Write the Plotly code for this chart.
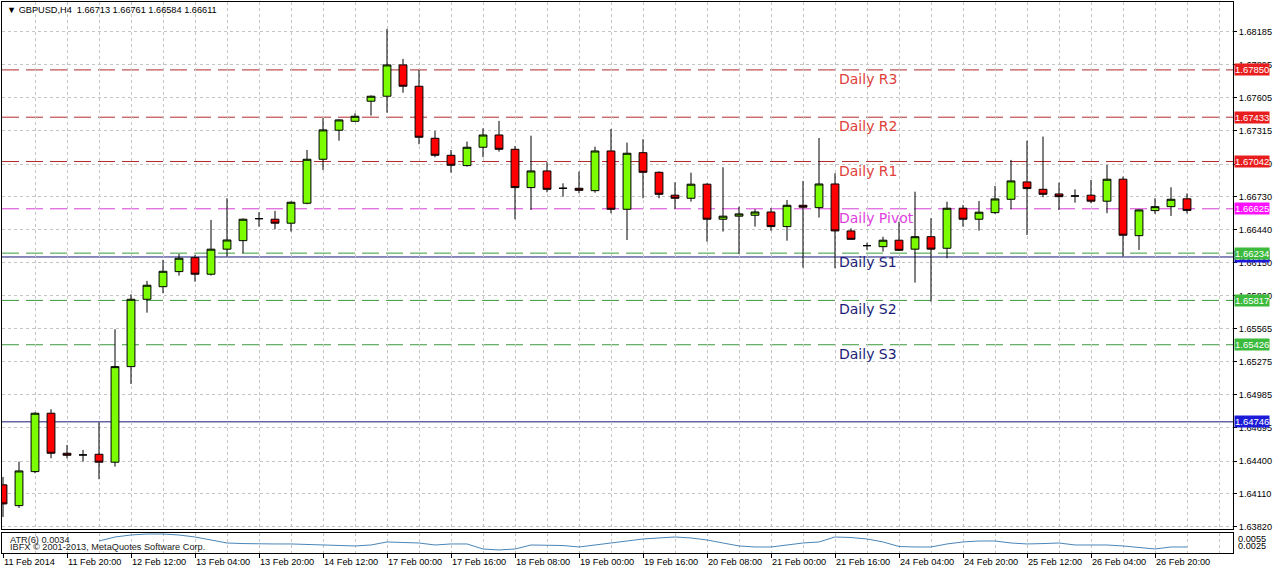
import plotly.graph_objects as go

# ---------------- data ----------------
symbol_title = "GBPUSD,H4"
last_ohlc = ["1.66713", "1.66761", "1.66584", "1.66611"]

open_ = [1.64190, 1.64007, 1.64307, 1.64822, 1.64469, 1.64454, 1.64460, 1.64390, 1.65233, 1.65827,
         1.65938, 1.66071, 1.66194, 1.66048, 1.66269, 1.66344, 1.66538, 1.66533, 1.66498, 1.66674,
         1.67062, 1.67318, 1.67397, 1.67574, 1.67618, 1.67894, 1.67706, 1.67247, 1.67097, 1.67006,
         1.67168, 1.67276, 1.67150, 1.66812, 1.66959, 1.66806, 1.66806, 1.66785, 1.67135, 1.66621,
         1.67120, 1.66947, 1.66745, 1.66718, 1.66842, 1.66533, 1.66560, 1.66568, 1.66597, 1.66468,
         1.66656, 1.66635, 1.66844, 1.66430, 1.66300, 1.66291, 1.66348, 1.66269, 1.66379, 1.66277,
         1.66630, 1.66533, 1.66591, 1.66709, 1.66862, 1.66797, 1.66756, 1.66738, 1.66745, 1.66692,
         1.66886, 1.66388, 1.66609, 1.66644, 1.66713]
high_ = [1.64260, 1.64395, 1.64830, 1.64857, 1.64542, 1.64498, 1.64742, 1.65563, 1.65871, 1.65989,
         1.66174, 1.66227, 1.66218, 1.66527, 1.66718, 1.66540, 1.66595, 1.66606, 1.66690, 1.67144,
         1.67424, 1.67415, 1.67468, 1.67625, 1.68211, 1.67947, 1.67850, 1.67312, 1.67144, 1.67218,
         1.67335, 1.67400, 1.67179, 1.67270, 1.67036, 1.66850, 1.66953, 1.67173, 1.67329, 1.67209,
         1.67239, 1.66955, 1.66859, 1.66944, 1.66850, 1.66991, 1.66644, 1.66621, 1.66630, 1.66703,
         1.66871, 1.67250, 1.66939, 1.66453, 1.66326, 1.66379, 1.66512, 1.66776, 1.66542, 1.66688,
         1.66659, 1.66694, 1.66827, 1.67056, 1.67226, 1.67262, 1.66856, 1.66797, 1.66880, 1.67012,
         1.66909, 1.66620, 1.66718, 1.66815, 1.66761]
low_ = [1.63907, 1.63987, 1.64293, 1.64425, 1.64425, 1.64395, 1.64240, 1.64351, 1.65080, 1.65709,
        1.65880, 1.66036, 1.65982, 1.66036, 1.66203, 1.66233, 1.66468, 1.66445, 1.66424, 1.66665,
        1.66968, 1.67226, 1.67390, 1.67447, 1.67473, 1.67649, 1.67194, 1.67080, 1.66944, 1.66997,
        1.67080, 1.67129, 1.66533, 1.66615, 1.66771, 1.66732, 1.66762, 1.66767, 1.66586, 1.66350,
        1.66718, 1.66718, 1.66624, 1.66688, 1.66335, 1.66424, 1.66227, 1.66468, 1.66432, 1.66344,
        1.66106, 1.66547, 1.66101, 1.66350, 1.66262, 1.66247, 1.66253, 1.65974, 1.65806, 1.66189,
        1.66468, 1.66432, 1.66580, 1.66621, 1.66394, 1.66727, 1.66615, 1.66679, 1.66674, 1.66586,
        1.66203, 1.66262, 1.66580, 1.66562, 1.66584]
close_ = [1.64022, 1.64313, 1.64822, 1.64469, 1.64451, 1.64454, 1.64390, 1.65233, 1.65827, 1.65951,
          1.66074, 1.66189, 1.66048, 1.66269, 1.66350, 1.66533, 1.66538, 1.66498, 1.66683, 1.67062,
          1.67321, 1.67409, 1.67441, 1.67618, 1.67894, 1.67706, 1.67256, 1.67097, 1.67009, 1.67168,
          1.67276, 1.67150, 1.66812, 1.66959, 1.66797, 1.66806, 1.66788, 1.67135, 1.66621, 1.67115,
          1.66947, 1.66753, 1.66718, 1.66842, 1.66533, 1.66560, 1.66580, 1.66597, 1.66468, 1.66656,
          1.66639, 1.66844, 1.66430, 1.66356, 1.66300, 1.66348, 1.66259, 1.66379, 1.66269, 1.66630,
          1.66533, 1.66595, 1.66712, 1.66871, 1.66803, 1.66753, 1.66732, 1.66738, 1.66692, 1.66886,
          1.66392, 1.66615, 1.66644, 1.66709, 1.66611]

atr6 = [None, None, None, None, None, None,
        0.00445, 0.00515, 0.00550, 0.00567, 0.00567, 0.00550, 0.00515, 0.00463, 0.00410, 0.00400,
        0.00393, 0.00393, 0.00393, 0.00384, 0.00375, 0.00358, 0.00358, 0.00375, 0.00428, 0.00419,
        0.00410, 0.00375, 0.00393, 0.00393, 0.00305, 0.00288, 0.00305, 0.00375, 0.00375, 0.00366,
        0.00340, 0.00375, 0.00419, 0.00445, 0.00480, 0.00498, 0.00515, 0.00498, 0.00463, 0.00410,
        0.00358, 0.00340, 0.00340, 0.00375, 0.00410, 0.00428, 0.00515, 0.00506, 0.00480, 0.00428,
        0.00349, 0.00340, 0.00340, 0.00393, 0.00428, 0.00445, 0.00445, 0.00410, 0.00393, 0.00400,
        0.00410, 0.00375, 0.00375, 0.00375, 0.00358, 0.00331, 0.00305, 0.00340, 0.00340]
atr_label = "ATR(6) 0.0034"
atr_scale_labels = ["0.0055", "0.0025"]

time_labels = ["11 Feb 2014", "11 Feb 20:00", "12 Feb 12:00", "13 Feb 04:00", "13 Feb 20:00",
               "14 Feb 12:00", "17 Feb 00:00", "17 Feb 16:00", "18 Feb 08:00", "19 Feb 00:00",
               "19 Feb 16:00", "20 Feb 08:00", "21 Feb 00:00", "21 Feb 16:00", "24 Feb 04:00",
               "24 Feb 20:00", "25 Feb 12:00", "26 Feb 04:00", "26 Feb 20:00"]
label_every = 4

price_ticks = [1.63820, 1.64110, 1.64400, 1.64695, 1.64985, 1.65275, 1.65565, 1.65860,
               1.66150, 1.66440, 1.66730, 1.67020, 1.67315, 1.67605, 1.67895, 1.68185]

level_names = ["Daily R3", "Daily R2", "Daily R1", "Daily Pivot", "Daily S1", "Daily S2", "Daily S3"]
level_values = [1.67850, 1.67433, 1.67042, 1.66625, 1.66234, 1.65817, 1.65426]
level_kinds = ["R", "R", "R", "P", "S", "S", "S"]
hline_values = [1.66200, 1.64746]

# ---------------- styling ----------------
FONT = "Liberation Sans"
GRID = "#c4c4c4"
line_col = {"R": "#b02a2a", "P": "#d63cd6", "S": "#3c9a3c"}
text_col = {"R": "#e0403a", "P": "#e040e0", "S": "#1c1c78"}
box_col = {"R": "#e81e1e", "P": "#ff10ff", "S": "#3cba3c"}
NAVY = "#18187e"
BLUEBOX = "#1c1cd8"
LABEL_BAR = 52  # bar index where the level names start

n = len(open_)
xs = list(range(n))

fig = go.Figure()

fig.add_trace(go.Candlestick(
    x=xs, open=open_, high=high_, low=low_, close=close_,
    increasing=dict(fillcolor="#7cfc00", line=dict(color="black", width=1)),
    decreasing=dict(fillcolor="#ff0000", line=dict(color="black", width=1)),
    whiskerwidth=0, xaxis="x", yaxis="y", hoverinfo="skip"))

fig.add_trace(go.Scatter(
    x=xs, y=atr6, mode="lines", line=dict(color="#4a86b8", width=1),
    xaxis="x2", yaxis="y2", hoverinfo="skip"))

shapes = []
for v, k in zip(level_values, level_kinds):
    shapes.append(dict(type="line", xref="paper", yref="y", x0=0, x1=1, y0=v, y1=v,
                       line=dict(color=line_col[k], width=1, dash="17px,7px"), layer="below"))
for v in hline_values:
    shapes.append(dict(type="line", xref="paper", yref="y", x0=0, x1=1, y0=v, y1=v,
                       line=dict(color=NAVY, width=1), layer="below"))

annotations = []
# level names under each line
for name, v, k in zip(level_names, level_values, level_kinds):
    annotations.append(dict(x=LABEL_BAR, xref="x", y=v, yref="y", xanchor="left",
                            yanchor="middle", xshift=2, yshift=-9, text=name, showarrow=False,
                            font=dict(family="DejaVu Sans", size=14, color=text_col[k])))

# right-side price boxes
order = [(hline_values[0], BLUEBOX)] + [(v, box_col[k]) for v, k in zip(level_values, level_kinds)] \
        + [(hline_values[1], BLUEBOX)]
for v, c in order:
    annotations.append(dict(x=1, xref="paper", y=v, yref="y", xanchor="left", yanchor="middle",
                            xshift=1, text=f"{v:.5f}", showarrow=False, bgcolor=c, borderpad=0,
                            font=dict(family=FONT, size=9.5, color="white")))

annotations.append(dict(x=0.0024, xref="paper", y=0.9855, yref="paper", xanchor="left",
                        yanchor="middle", showarrow=False,
                        text="▼ " + symbol_title + "\u00a0\u00a0" + " ".join(last_ohlc),
                        font=dict(family=FONT, size=9.2, color="black")))
annotations.append(dict(x=0.0049, xref="paper", y=0.0236, yref="paper", xanchor="left",
                        yanchor="middle", showarrow=False, text=atr_label,
                        font=dict(family=FONT, size=9.2, color="#202020")))
annotations.append(dict(x=0.0049, xref="paper", y=0.0109, yref="paper", xanchor="left",
                        yanchor="middle", showarrow=False,
                        text="IBFX © 2001-2013, MetaQuotes Software Corp.",
                        font=dict(family=FONT, size=9.2, color="#202020")))
for lab, py in zip(atr_scale_labels, [0.0254, 0.0127]):
    annotations.append(dict(x=1, xref="paper", y=py, yref="paper", xanchor="left",
                            yanchor="middle", xshift=3, showarrow=False, text=lab,
                            font=dict(family=FONT, size=9.2, color="black")))

x_range = [-0.0625, 76.875]
main_bottom = 0.0436
atr_top = 0.0363

fig.update_layout(
    width=1276, height=572, autosize=False,
    margin=dict(l=2, r=43, t=2, b=19, pad=0, autoexpand=False),
    paper_bgcolor="white", plot_bgcolor="white",
    showlegend=False, hovermode=False,
    font=dict(family=FONT, size=9.2, color="black"),
    shapes=shapes, annotations=annotations,
    xaxis=dict(domain=[0, 1], anchor="y", range=x_range, autorange=False, tickmode="linear",
               tick0=0, dtick=2,
               showticklabels=False, ticks="", showgrid=True, gridcolor=GRID, griddash="3px,3px",
               gridwidth=1, showline=True, mirror=True, linecolor="black", linewidth=1,
               zeroline=False, rangeslider=dict(visible=False)),
    yaxis=dict(domain=[main_bottom, 1], anchor="x", side="right", autorange=False,
               range=[1.63801, 1.68449], tickmode="array", tickvals=price_ticks,
               ticktext=[f"{t:.5f}" for t in price_ticks], ticks="outside", ticklen=3,
               tickcolor="black", showgrid=True, gridcolor=GRID, griddash="3px,3px",
               showline=True, mirror=True, linecolor="black", linewidth=1, zeroline=False,
               automargin=False,
               tickfont=dict(family=FONT, size=9.2, color="black")),
    xaxis2=dict(domain=[0, 1], anchor="y2", range=x_range, autorange=False, tickmode="array",
                tickvals=[i * label_every for i in range(len(time_labels))], ticktext=time_labels,
                ticks="outside", ticklen=4, tickcolor="black", ticklabelposition="outside right",
                showgrid=True, gridcolor=GRID, griddash="3px,3px", automargin=False,
                minor=dict(tickmode="linear", tick0=0, dtick=2, showgrid=True, gridcolor=GRID,
                           griddash="3px,3px", ticks=""),
                showline=True, mirror=True, linecolor="black", linewidth=1, zeroline=False,
                tickfont=dict(family=FONT, size=9.2, color="black")),
    yaxis2=dict(domain=[0, atr_top], anchor="x2", side="right", range=[0.00235, 0.00585],
                autorange=False, automargin=False,
                showticklabels=False, ticks="", showgrid=False, showline=True, mirror=True,
                linecolor="black", linewidth=1, zeroline=False),
)

fig.write_html("out.html", config={"displayModeBar": False, "staticPlot": True},
               post_script="document.body.style.margin='0px';"
                           "document.body.style.overflow='hidden';")
